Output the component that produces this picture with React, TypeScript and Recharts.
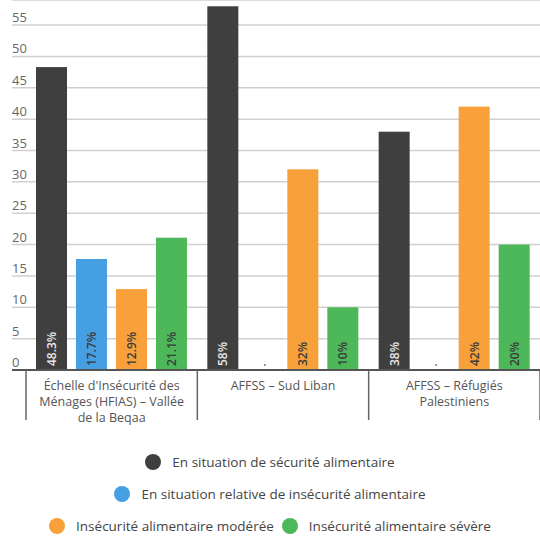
import React from 'react';
import { Bar, BarChart, CartesianGrid, Legend, XAxis, YAxis } from 'recharts';

const categories = [
  "Échelle d'Insécurité des\nMénages (HFIAS) – Vallée\nde la Beqaa",
  'AFFSS – Sud Liban',
  'AFFSS – Réfugiés\nPalestiniens',
];
const secure = [48.3, 58, 38];
const relative = [17.7, 0, 0];
const moderate = [12.9, 32, 42];
const severe = [21.1, 10, 20];
const secureLabels = ['48.3%', '58%', '38%'];
const relativeLabels = ['17.7%', '', ''];
const moderateLabels = ['12.9%', '32%', '42%'];
const severeLabels = ['21.1%', '10%', '20%'];
const yTicks = [0, 5, 10, 15, 20, 25, 30, 35, 40, 45, 50, 55];

const seriesNames = [
  'En situation de sécurité alimentaire',
  'En situation relative de insécurité alimentaire',
  'Insécurité alimentaire modérée',
  'Insécurité alimentaire sévère',
];
const COLORS = ['#3f3f3f', '#469fe2', '#f8a13a', '#4db85a'];
const LABEL_COLORS = ['#e8e8e8', '#3a3a3a', '#3a3a3a', '#3a3a3a'];
const LABELS = [secureLabels, relativeLabels, moderateLabels, severeLabels];

const W = 540;
const H = 542;
const M_LEFT = 11;
const Y_W = 1;
const PAD_LEFT = 14;
const BAND = (W - M_LEFT - Y_W - PAD_LEFT) / categories.length;
const FONT = '"Open Sans", "Noto Sans", sans-serif';

const data = categories.map((name, i) => ({
  name,
  secure: secure[i],
  relative: relative[i],
  moderate: moderate[i],
  severe: severe[i],
}));

const YTick = ({ y, payload }: any) => (
  <text x={12} y={y - 3} fontSize={13} fill="#666" fontFamily={FONT} fontWeight={500}>
    {payload.value}
  </text>
);

// category labels + the vertical separators between the groups
const XTick = ({ x, y, payload, index }: any) => {
  const lines = String(payload.value).split('\n');
  return (
    <g>
      <line x1={x - BAND / 2} x2={x - BAND / 2} y1={y} y2={y + 50} stroke="#666" strokeWidth={1.5} />
      {index === categories.length - 1 && (
        <line x1={x + BAND / 2} x2={x + BAND / 2} y1={y} y2={y + 50} stroke="#666" strokeWidth={1.5} />
      )}
      {lines.map((l, i) => (
        <text
          key={i}
          x={x}
          y={y + 20 + i * 16}
          textAnchor="middle"
          fontSize={12.5}
          fill="#555"
          fontFamily={FONT}
          fontWeight={500}
        >
          {l}
        </text>
      ))}
    </g>
  );
};

// bar rect with its rotated value label at the bottom
const makeShape = (s: number) => (props: any) => {
  const x = Number(props.x);
  const y = Number(props.y);
  const width = Number(props.width);
  const height = Number(props.height);
  const cx = x + width / 2;
  const by = y + height;
  const txt = LABELS[s][props.index];
  return (
    <g>
      {height > 0 && <rect x={x} y={y} width={width} height={height} fill={COLORS[s]} />}
      {txt ? (
        <g transform={`translate(${cx} ${by - 4}) rotate(-90)`}>
          <text
            x={0}
            y={4.5}
            fontSize={12}
            fontWeight={600}
            fill={LABEL_COLORS[s]}
            fontFamily={FONT}
            textAnchor="start"
          >
            {txt}
          </text>
        </g>
      ) : (
        <circle cx={cx + 2} cy={by - 5} r={1} fill="#777" />
      )}
    </g>
  );
};

const LegendItem = ({ color, label }: { color: string; label: string }) => (
  <span style={{ display: 'inline-flex', alignItems: 'center', margin: '0 4px' }}>
    <span style={{ width: 16, height: 16, borderRadius: 8, background: color, display: 'inline-block', marginRight: 11 }} />
    <span>{label}</span>
  </span>
);

const renderLegend = () => (
  <div style={{ height: 96, fontFamily: FONT, fontSize: 13.5, fontWeight: 500, color: '#444' }}>
    {[[0], [1], [2, 3]].map((row, r) => (
      <div key={r} style={{ height: 32, display: 'flex', justifyContent: 'center', alignItems: 'center' }}>
        {row.map((k) => (
          <LegendItem key={k} color={COLORS[k]} label={seriesNames[k]} />
        ))}
      </div>
    ))}
  </div>
);

export default function App() {
  const keys = ['secure', 'relative', 'moderate', 'severe'];
  return (
    <div style={{ position: 'absolute', left: 0, top: 0, width: W, height: H, background: '#fff' }}>
      <BarChart
        width={W}
        height={H}
        data={data}
        margin={{ top: 0, right: 0, left: M_LEFT, bottom: 0 }}
        barSize={31}
        barGap={9}
      >
        <CartesianGrid vertical={false} stroke="#d0d0d0" strokeWidth={1.5} />
        <YAxis
          width={Y_W}
          domain={[0, 59]}
          ticks={yTicks}
          axisLine={false}
          tickLine={false}
          tick={<YTick />}
          interval={0}
        />
        <XAxis
          dataKey="name"
          height={76}
          padding={{ left: PAD_LEFT, right: 0 }}
          axisLine={{ stroke: '#555', strokeWidth: 2 }}
          tickLine={false}
          tickSize={0}
          tickMargin={0}
          tick={<XTick />}
          interval={0}
        />
        <Legend verticalAlign="bottom" content={renderLegend} wrapperStyle={{ left: 0, width: W }} />
        {keys.map((k, i) => (
          <Bar
            key={k}
            dataKey={k}
            name={seriesNames[i]}
            fill={COLORS[i]}
            isAnimationActive={false}
            shape={makeShape(i)}
          />
        ))}
      </BarChart>
    </div>
  );
}
